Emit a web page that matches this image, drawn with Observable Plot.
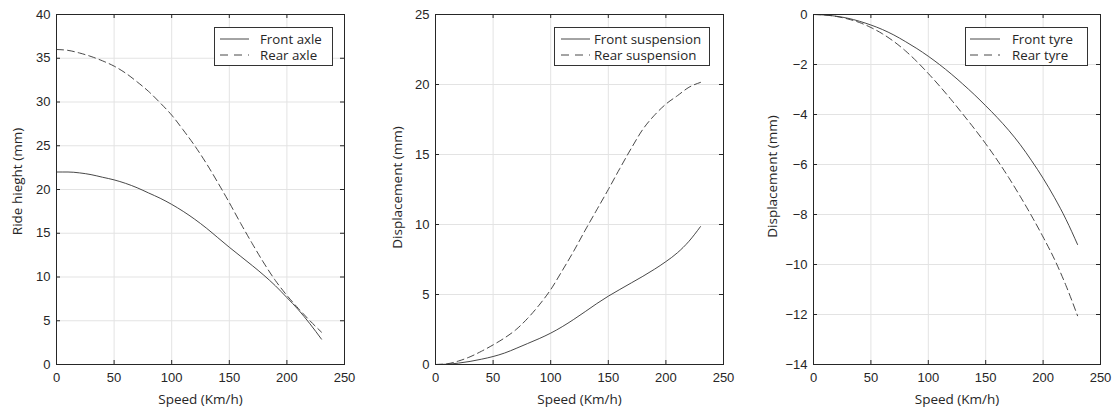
<!DOCTYPE html>
<html><head><meta charset="utf-8">
<script src="https://cdn.jsdelivr.net/npm/d3@7"></script>
<script src="https://cdn.jsdelivr.net/npm/@observablehq/plot@0.6"></script>
<style>
body{margin:0;background:#fff;}
#wrap{position:relative;width:1115px;height:410px;overflow:hidden;background:#fff;}
.panel{position:absolute;top:0;}
.legend{position:absolute;border:1px solid #333;background:#fff;font-family:"Open Sans",sans-serif;font-size:13.3px;color:#262626;box-sizing:border-box;}
.legend .item{position:absolute;white-space:nowrap;line-height:16px;}
.legend svg{position:absolute;}
</style></head><body><div id="wrap"></div>
<script>
const speed = [0,10,20,30,40,50,60,70,80,90,100,110,120,130,140,150,160,170,180,190,200,210,220,230];

const frontAxle = [22.0,22.0,21.9,21.7,21.4,21.1,20.7,20.2,19.6,19.0,18.3,17.5,16.6,15.6,14.5,13.4,12.35,11.3,10.2,9.0,7.65,6.25,4.65,2.9];
const rearAxle  = [36.0,35.9,35.6,35.2,34.7,34.1,33.3,32.3,31.2,29.9,28.5,26.8,25.0,23.0,20.8,18.5,16.1,13.8,11.6,9.6,7.9,6.4,5.0,3.7];

const frontSusp = [0,0.02,0.1,0.22,0.38,0.57,0.82,1.15,1.5,1.85,2.24,2.7,3.22,3.78,4.35,4.88,5.36,5.83,6.3,6.8,7.35,7.98,8.8,9.85];
const rearSusp  = [0,0.05,0.25,0.55,0.95,1.4,1.9,2.5,3.3,4.25,5.35,6.7,8.1,9.6,11.05,12.5,14.0,15.45,16.8,17.8,18.6,19.2,19.8,20.15];

const frontTyre = [0,-0.02,-0.07,-0.15,-0.27,-0.42,-0.6,-0.82,-1.08,-1.36,-1.67,-2.01,-2.38,-2.78,-3.2,-3.65,-4.12,-4.63,-5.2,-5.85,-6.55,-7.33,-8.2,-9.2];
const rearTyre  = [0,-0.02,-0.08,-0.18,-0.32,-0.52,-0.77,-1.08,-1.45,-1.88,-2.36,-2.87,-3.41,-3.98,-4.56,-5.17,-5.82,-6.52,-7.27,-8.06,-8.9,-9.8,-10.85,-12.05];

const xTicks = [0,50,100,150,200,250];
const yTicksAxle = [0,5,10,15,20,25,30,35,40];
const yTicksSusp = [0,5,10,15,20,25];
const yTicksTyre = [-14,-12,-10,-8,-6,-4,-2,0];

const xLabel = "Speed (Km/h)";
const panels = [
  {left:0, width:380, mL:56, mR:36, a:frontAxle, b:rearAxle, names:["Front axle","Rear axle"], yTicks:yTicksAxle, yLabel:"Ride hieght (mm)", ldx:-39, ldy:-8,
   leg:{left:214, width:119, sx:5, sw:29, tx:45}},
  {left:380, width:370, mL:55, mR:27, a:frontSusp, b:rearSusp, names:["Front suspension","Rear suspension"], yTicks:yTicksSusp, yLabel:"Displacement (mm)", ldx:-38, ldy:-2,
   leg:{left:554, width:156, sx:6, sw:29, tx:39}},
  {left:750, width:365, mL:63, mR:15, a:frontTyre, b:rearTyre, names:["Front tyre","Rear tyre"], yTicks:yTicksTyre, yLabel:"Displacement (mm)", ldx:-41, ldy:-13,
   leg:{left:965, width:123, sx:4, sw:30, tx:46}}
];

const H = 410, mT = 14, mB = 46;
const ink = "#262626", lineCol = "#333", gridCol = "#e3e3e3";
const dash = "7,4";
const wrap = document.getElementById("wrap");

for (const p of panels) {
  const innerW = p.width - p.mL - p.mR, innerH = H - mT - mB;
  const dA = speed.map((s,i)=>({speed:s, value:p.a[i], series:p.names[0]}));
  const dB = speed.map((s,i)=>({speed:s, value:p.b[i], series:p.names[1]}));
  const yDom = [p.yTicks[0], p.yTicks[p.yTicks.length-1]];
  const chart = Plot.plot({
    width: p.width, height: H,
    marginLeft: p.mL, marginRight: p.mR, marginTop: mT, marginBottom: mB,
    style: {fontFamily: "'Liberation Sans', Arial, sans-serif", fontSize: "13px", background: "transparent"},
    x: {domain: [0, 250]},
    y: {domain: yDom},
    marks: [
      Plot.gridX(xTicks, {stroke: gridCol, strokeOpacity: 1}),
      Plot.gridY(p.yTicks, {stroke: gridCol, strokeOpacity: 1}),
      Plot.line(dA, {x: "speed", y: "value", stroke: lineCol, strokeWidth: 0.9, curve: "monotone-x"}),
      Plot.line(dB, {x: "speed", y: "value", stroke: lineCol, strokeWidth: 0.9, strokeDasharray: dash, curve: "monotone-x"}),
      Plot.frame({stroke: ink, strokeWidth: 1}),
      Plot.tickX(xTicks, {x: d=>d, stroke: ink, insetTop: innerH - 4}),
      Plot.tickX(xTicks, {x: d=>d, stroke: ink, insetBottom: innerH - 4}),
      Plot.tickY(p.yTicks, {y: d=>d, stroke: ink, insetRight: innerW - 4}),
      Plot.tickY(p.yTicks, {y: d=>d, stroke: ink, insetLeft: innerW - 4}),
      Plot.axisX(xTicks, {tickSize: 0, tickPadding: 8, label: null, fill: ink}),
      Plot.axisY(p.yTicks, {tickSize: 0, tickPadding: 6, label: null, fill: ink}),
      Plot.text([xLabel], {frameAnchor: "bottom", dy: 35, text: d=>d, fontFamily: "'Open Sans', sans-serif", fontSize: 13.5, fill: ink, lineAnchor: "middle"}),
      Plot.text([p.yLabel], {frameAnchor: "left", rotate: -90, dx: p.ldx, dy: p.ldy, text: d=>d, fontFamily: "'Open Sans', sans-serif", fontSize: 13.5, fill: ink, lineAnchor: "middle", textAnchor: "middle"})
    ]
  });
  const div = document.createElement("div");
  div.className = "panel";
  div.style.left = p.left + "px";
  div.appendChild(chart);
  wrap.appendChild(div);

  // legend
  const lg = document.createElement("div");
  lg.className = "legend";
  lg.style.left = p.leg.left + "px";
  lg.style.top = "27px";
  lg.style.width = p.leg.width + "px";
  lg.style.height = "39px";
  p.names.forEach((nm, i) => {
    const cy = i === 0 ? 10.5 : 27;
    const svg = document.createElementNS("http://www.w3.org/2000/svg", "svg");
    svg.setAttribute("width", p.leg.sw);
    svg.setAttribute("height", 4);
    svg.style.left = p.leg.sx + "px";
    svg.style.top = (cy - 2) + "px";
    const ln = document.createElementNS("http://www.w3.org/2000/svg", "line");
    ln.setAttribute("x1", 0); ln.setAttribute("x2", p.leg.sw);
    ln.setAttribute("y1", 2); ln.setAttribute("y2", 2);
    ln.setAttribute("stroke", lineCol); ln.setAttribute("stroke-width", 0.9);
    if (i === 1) ln.setAttribute("stroke-dasharray", "8,6");
    svg.appendChild(ln);
    lg.appendChild(svg);
    const t = document.createElement("div");
    t.className = "item";
    t.textContent = nm;
    t.style.left = p.leg.tx + "px";
    t.style.top = (cy - 8) + "px";
    lg.appendChild(t);
  });
  wrap.appendChild(lg);
}
</script></body></html>
